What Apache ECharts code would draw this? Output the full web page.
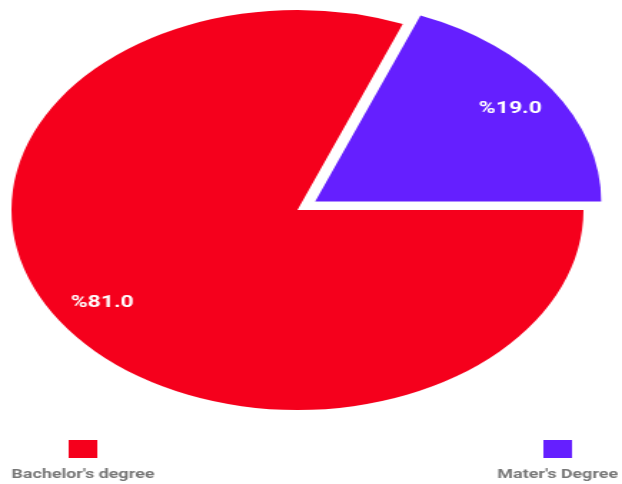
<!DOCTYPE html>
<html>
<head>
<meta charset="utf-8">
<script src="https://cdn.jsdelivr.net/npm/echarts@6/dist/echarts.min.js"></script>
<style>
  html, body { margin: 0; padding: 0; background: #fff; overflow: hidden; }
  /* chart is laid out as a circle and then widened into an ellipse */
  #chart { width: 435px; height: 484px; transform: scaleX(1.43); transform-origin: 0 0; }
</style>
</head>
<body>
<div id="chart"></div>
<script>
const categories = ["Bachelor's degree", "Mater's Degree"];
const shares = [81.0, 19.0];
const colors = ['#f5001c', '#651fff'];
const explodedIndex = 1;

const pieData = categories.map((name, i) => ({
  name: name,
  value: shares[i],
  selected: i === explodedIndex,
  itemStyle: { color: colors[i] }
}));

const chart = echarts.init(document.getElementById('chart'), null, { renderer: 'canvas' });

const common = {
  type: 'pie',
  center: [208, 210],
  startAngle: 0,
  clockwise: true,
  selectedMode: 'single',
  selectedOffset: 15,
  animation: false
};

const legendBase = {
  padding: 0, itemWidth: 20, itemHeight: 18, icon: 'rect',
  selectedMode: false, formatter: () => ''
};

chart.setOption({
  backgroundColor: '#ffffff',
  legend: [
    Object.assign({}, legendBase, {
      left: 48, top: 440,
      data: [{ name: categories[0], itemStyle: { color: colors[0] } }]
    }),
    Object.assign({}, legendBase, {
      left: 380, top: 440,
      data: [{ name: categories[1], itemStyle: { color: colors[1] } }]
    })
  ],
  graphic: [
    {
      type: 'text', x: 58, y: 475,
      style: {
        text: categories[0], x: 0, y: 0, textAlign: 'center', textVerticalAlign: 'middle',
        fill: '#777777', font: 'bold 12.5px Roboto'
      }
    },
    {
      type: 'text', x: 390, y: 475,
      style: {
        text: categories[1], x: 0, y: 0, textAlign: 'center', textVerticalAlign: 'middle',
        fill: '#777777', font: 'bold 12.5px Roboto'
      }
    }
  ],
  series: [
    Object.assign({}, common, {
      name: 'degree',
      radius: [0, 200],
      label: { show: false },
      labelLine: { show: false },
      emphasis: { disabled: true },
      data: pieData
    }),
    // transparent ring that carries the percentage labels further out
    Object.assign({}, common, {
      name: 'labels',
      radius: [124, 200],
      silent: true,
      itemStyle: { color: 'transparent' },
      label: {
        show: true,
        position: 'inside',
        color: '#ffffff',
        fontFamily: 'Roboto',
        fontWeight: 'bold',
        fontSize: 16,
        formatter: p => '%' + p.value.toFixed(1)
      },
      labelLine: { show: false },
      emphasis: { disabled: true },
      data: categories.map((name, i) => ({
        name: name, value: shares[i], selected: i === explodedIndex,
        itemStyle: { color: 'transparent' }
      }))
    })
  ]
});
</script>
</body>
</html>
